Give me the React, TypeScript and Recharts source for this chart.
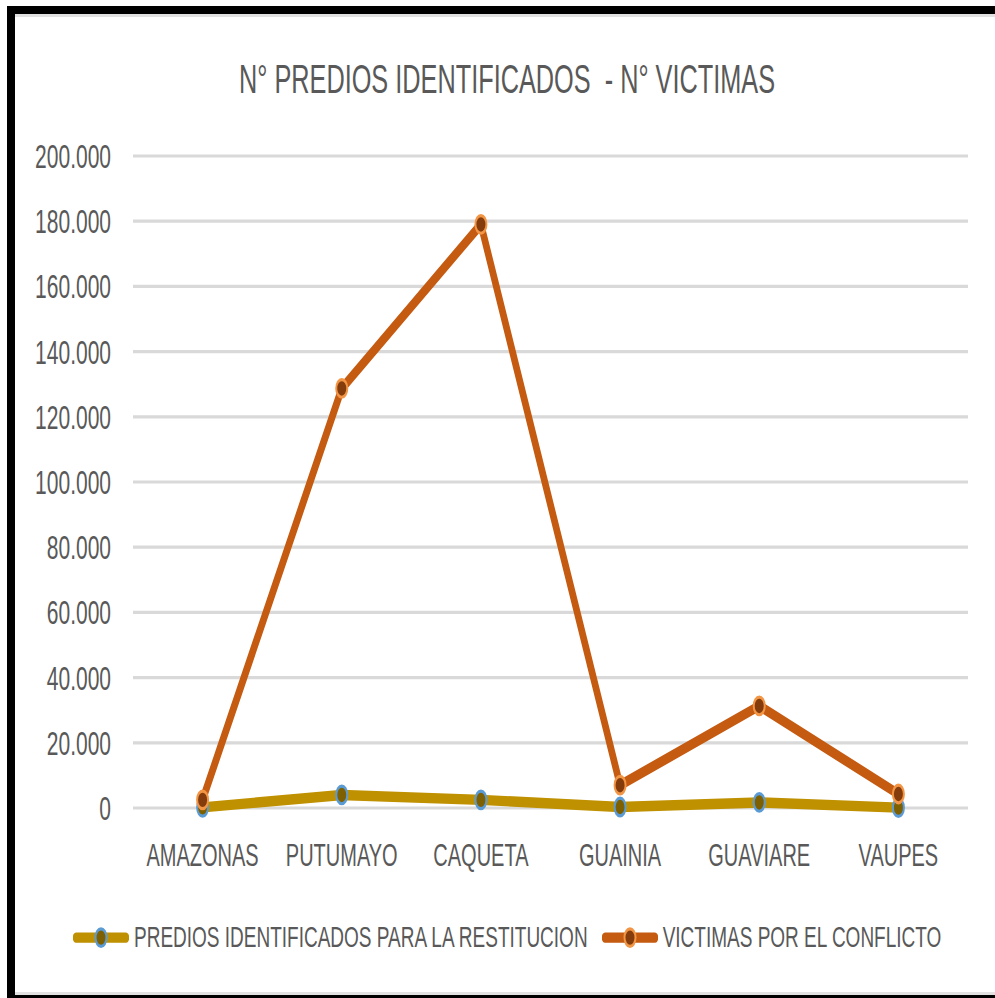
import { LineChart, Line, XAxis, YAxis, CartesianGrid, Legend } from "recharts";

const departamentos = ["AMAZONAS", "PUTUMAYO", "CAQUETA", "GUAINIA", "GUAVIARE", "VAUPES"];
const prediosIdentificados = [200, 4000, 2500, 300, 1700, 100];
const victimasConflicto = [2500, 128700, 179000, 7000, 31300, 4300];
const yTicks = [0, 20000, 40000, 60000, 80000, 100000, 120000, 140000, 160000, 180000, 200000];

const data = departamentos.map((d, i) => ({
  depto: d,
  predios: prediosIdentificados[i],
  victimas: victimasConflicto[i],
}));

// the source picture is an Excel chart stretched vertically, so draw it flat and scale it
const STRETCH = 1.6;
const FONT = '"Liberation Sans", Arial, sans-serif';
const TEXT = "#595959";

const seriesStyle: { [key: string]: { line: string; fill: string; ring: string } } = {
  predios: { line: "#BF9000", fill: "#7F6000", ring: "#5B9BD5" },
  victimas: { line: "#C55A11", fill: "#843C0C", ring: "#F29545" },
};

const formatTick = (v: number) => (v === 0 ? "0" : `${v / 1000}.000`);

const LegendContent = ({ payload }: any) => (
  <div
    style={{
      display: "flex",
      alignItems: "center",
      paddingLeft: 73,
      height: 20,
      fontFamily: FONT,
      fontSize: 19,
      color: TEXT,
      whiteSpace: "nowrap",
    }}
  >
    {(payload || []).map((entry: any) => {
      const s = seriesStyle[entry.dataKey];
      return (
        <div key={entry.dataKey} style={{ display: "flex", alignItems: "center", marginRight: 14 }}>
          <svg width={56} height={16} style={{ marginRight: 5 }}>
            <line x1={3} y1={8} x2={53} y2={8} stroke={s.line} strokeWidth={6.5} strokeLinecap="round" />
            <circle cx={28} cy={8} r={5.5} fill={s.fill} stroke={s.ring} strokeWidth={2} />
          </svg>
          <span>{entry.value}</span>
        </div>
      );
    })}
  </div>
);

export default function App() {
  return (
    <div
      style={{
        position: "absolute",
        left: 0,
        top: 0,
        width: 995,
        height: 998,
        background: "#fff",
        overflow: "hidden",
      }}
    >
      <div
        style={{
          position: "absolute",
          left: 7,
          top: 6,
          width: 988,
          height: 992,
          boxSizing: "border-box",
          borderTop: "8px solid #000",
          borderLeft: "8px solid #000",
          borderBottom: "3px solid #000",
          boxShadow: "inset 0 3px 0 #e2e2e2, inset 0 -3px 0 #e2e2e2",
        }}
      />
      <div
        style={{
          position: "absolute",
          left: 0,
          top: 0,
          width: 995,
          height: 624,
          transform: `scaleY(${STRETCH})`,
          transformOrigin: "0 0",
        }}
      >
        <div
          style={{
            position: "absolute",
            left: 20,
            top: 33.5,
            width: 974,
            textAlign: "center",
            fontFamily: FONT,
            fontSize: 25.3,
            lineHeight: "30px",
            color: TEXT,
            whiteSpace: "pre",
          }}
        >
          {"N° PREDIOS IDENTIFICADOS  - N° VICTIMAS"}
        </div>
        <LineChart
          width={995}
          height={624}
          data={data}
          margin={{ top: 97.5, right: 27, bottom: 89, left: 16 }}
          style={{ fontFamily: FONT }}
        >
          <CartesianGrid vertical={false} stroke="#D9D9D9" strokeWidth={2} />
          <XAxis
            dataKey="depto"
            axisLine={false}
            tickLine={false}
            tickMargin={16}
            padding={{ left: 69.6, right: 69.6 }}
            tick={{ fill: TEXT, fontSize: 20, fontFamily: FONT }}
            interval={0}
          />
          <YAxis
            width={117}
            domain={[0, 200000]}
            ticks={yTicks}
            tickFormatter={formatTick}
            axisLine={false}
            tickLine={false}
            tickMargin={16}
            tick={{ fill: TEXT, fontSize: 21, fontFamily: FONT }}
            interval={0}
          />
          <Legend
            layout="horizontal"
            verticalAlign="middle"
            align="center"
            content={<LegendContent />}
            wrapperStyle={{ top: 575.6, left: 0, width: 995 }}
          />
          <Line
            dataKey="predios"
            name="PREDIOS IDENTIFICADOS PARA LA RESTITUCION"
            type="linear"
            stroke={seriesStyle.predios.line}
            strokeWidth={6.5}
            dot={{ r: 5.5, fill: seriesStyle.predios.fill, stroke: seriesStyle.predios.ring, strokeWidth: 2 }}
            activeDot={false}
            isAnimationActive={false}
          />
          <Line
            dataKey="victimas"
            name="VICTIMAS POR EL CONFLICTO"
            type="linear"
            stroke={seriesStyle.victimas.line}
            strokeWidth={6.5}
            dot={{ r: 5.5, fill: seriesStyle.victimas.fill, stroke: seriesStyle.victimas.ring, strokeWidth: 2 }}
            activeDot={false}
            isAnimationActive={false}
          />
        </LineChart>
      </div>
    </div>
  );
}
